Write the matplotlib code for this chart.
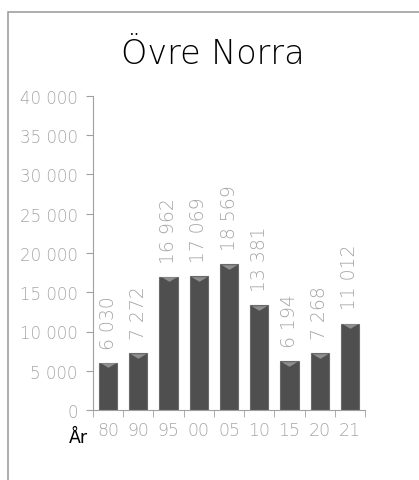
import numpy as np
import matplotlib.pyplot as plt
from matplotlib.patches import Rectangle

years = ["80", "90", "95", "00", "05", "10", "15", "20", "21"]
values = [6030, 7272, 16962, 17069, 18569, 13381, 6194, 7268, 11012]
labels = ["6 030", "7 272", "16 962", "17 069", "18 569", "13 381", "6 194", "7 268", "11 012"]
yticks = [0, 5000, 10000, 15000, 20000, 25000, 30000, 35000, 40000]
ytick_labels = ["0", "5 000", "10 000", "15 000", "20 000", "25 000", "30 000", "35 000", "40 000"]

plt.rcParams['font.family'] = ['DejaVu Sans']
plt.rcParams['font.weight'] = 200
grey = '#a6a6a6'

fig = plt.figure(figsize=(4.19, 4.81), dpi=100)
# outer chart border (cropped on right and bottom)
fig.patches.append(Rectangle((8 / 419, -0.1), 1.2, 1 - 13 / 481 + 0.1, transform=fig.transFigure,
                             fill=False, edgecolor='#a0a0a0', linewidth=1.2))

ax = fig.add_axes([93 / 419, 70 / 481, 272 / 419, 314 / 481])
x = np.arange(len(years))
ax.bar(x, values, width=0.6, color='#4f4f4f', edgecolor='#6a6a6a', linewidth=0.8)
tri = [(-1, 0.3), (1, 0.3), (0, -0.3), (-1, 0.3)]
ax.scatter(x, np.array(values) - 330, marker=tri, s=125, color='#8e8e8e', zorder=3, linewidths=0)

for xi, v, lab in zip(x, values, labels):
    ax.text(xi, v + 1800, lab, rotation=90, ha='center', va='bottom', fontsize=13.5, color=grey)

ax.set_xlim(-0.5, len(years) - 0.5)
ax.set_ylim(0, 40000)
ax.set_yticks(yticks)
ax.set_yticklabels(ytick_labels, fontsize=12, color=grey)
ax.set_xticks(x)
ax.set_xticklabels(years, fontsize=12.5, color=grey)
ax.set_xticks(np.arange(-0.5, len(years)), minor=True)
ax.tick_params(axis='x', which='major', length=0, pad=8)
ax.tick_params(axis='x', which='minor', length=5, color='#a0a0a0', direction='out')
ax.tick_params(axis='y', length=5, color='#a0a0a0', pad=6)
for s in ['top', 'right']:
    ax.spines[s].set_visible(False)
for s in ['left', 'bottom']:
    ax.spines[s].set_color('#a0a0a0')

fig.text(78 / 419, 1 - 438 / 481, "År", fontsize=12.5, fontweight='normal', color='black', ha='center', va='center')
fig.text(213 / 419, 1 - 54 / 481, "Övre Norra", fontsize=24, color='black', ha='center', va='center')

plt.savefig("out.png", dpi=100)
